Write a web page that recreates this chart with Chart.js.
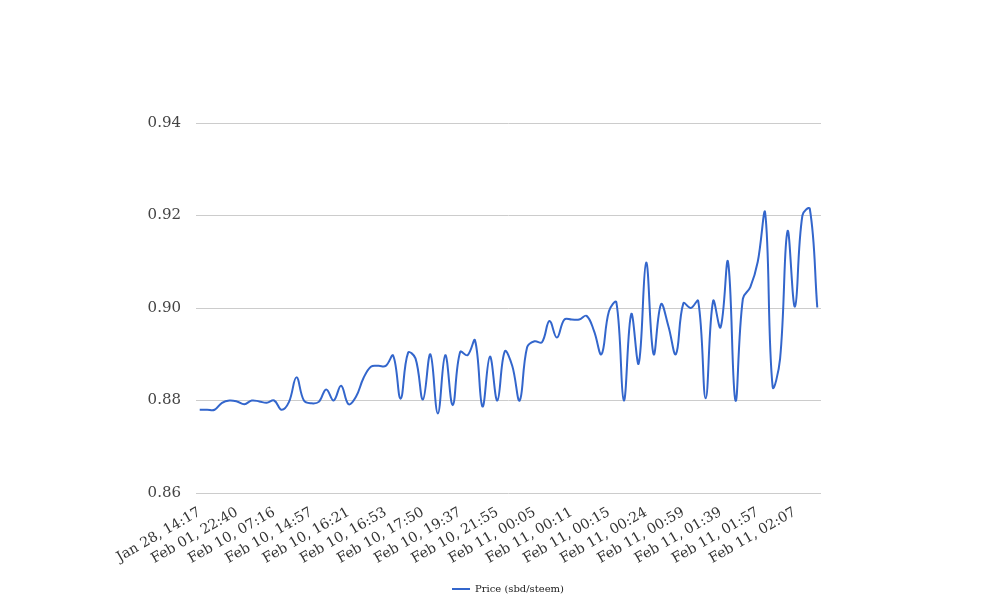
<!DOCTYPE html>
<html>
<head>
<meta charset="utf-8">
<script src="https://cdn.jsdelivr.net/npm/chart.js@4.4.1/dist/chart.umd.min.js"></script>
<style>
    html, body { margin: 0; padding: 0; background: #fff; }
    #wrap { width: 1008px; height: 616px; }
</style>
</head>
<body>
<div id="wrap"><canvas id="priceChart" width="1008" height="616"></canvas></div>
<script>
// labels shown on the x axis (one every 5 points)
const tickLabels = [
    "Jan 28, 14:17", "Feb 01, 22:40", "Feb 10, 07:16", "Feb 10, 14:57",
    "Feb 10, 16:21", "Feb 10, 16:53", "Feb 10, 17:50", "Feb 10, 19:37",
    "Feb 10, 21:55", "Feb 11, 00:05", "Feb 11, 00:11", "Feb 11, 00:15",
    "Feb 11, 00:24", "Feb 11, 00:59", "Feb 11, 01:39", "Feb 11, 01:57",
    "Feb 11, 02:07"
];
const labelEvery = 5;

// price in sbd/steem
const prices = [
    0.8780, 0.8780, 0.8780, 0.8795, 0.8800, 0.8798, 0.8792, 0.8800, 0.8798, 0.8795,
    0.8800, 0.8780, 0.8797, 0.8850, 0.8800, 0.8794, 0.8797, 0.8824, 0.8800, 0.8832,
    0.8792, 0.8808, 0.8848, 0.8873, 0.8875, 0.8875, 0.8897, 0.8804, 0.8903, 0.8891,
    0.8802, 0.8900, 0.8772, 0.8898, 0.8790, 0.8905, 0.8898, 0.8930, 0.8787, 0.8895,
    0.8800, 0.8906, 0.8875, 0.8800, 0.8915, 0.8928, 0.8926, 0.8972, 0.8936, 0.8975,
    0.8975, 0.8975, 0.8983, 0.8950, 0.8900, 0.8993, 0.9012, 0.8800, 0.8987, 0.8880,
    0.9098, 0.8900, 0.9008, 0.8960, 0.8900, 0.9010, 0.9000, 0.9015, 0.8805, 0.9015,
    0.8958, 0.9100, 0.8800, 0.9020, 0.9045, 0.9100, 0.9205, 0.8830, 0.8890, 0.9166,
    0.9003, 0.9200, 0.9214, 0.9001
];

const yMin = 0.86;
const yMax = 0.94;
const yStep = 0.02;

const labels = prices.map((p, i) => (i % labelEvery === 0 ? tickLabels[i / labelEvery] || "" : ""));

// centre the legend on the whole canvas instead of the padded box
const centerLegend = {
    id: "centerLegend",
    afterLayout(chart) {
        const lg = chart.legend;
        const shift = (chart.width - (lg.left + lg.right)) / 2 + 4;
        lg.left += shift;
        lg.right += shift;
    },
};

const ctx = document.getElementById("priceChart");
const chart = new Chart(ctx, {
    type: "line",
    data: {
        labels: labels,
        datasets: [
            {
                label: "Price (sbd/steem)",
                data: prices,
                borderColor: "#3366cc",
                backgroundColor: "#3366cc",
                borderWidth: 2,
                pointRadius: 0,
                tension: 0.4,
                fill: false,
            },
        ],
    },
    options: {
        responsive: false,
        animation: false,
        layout: {
            padding: { left: 0, right: 187, top: 123, bottom: 12 },
        },
        plugins: {
            tooltip: { enabled: false },
            legend: {
                position: "bottom",
                labels: {
                    usePointStyle: true,
                    pointStyle: "line",
                    pointStyleWidth: 18,
                    color: "#222",
                    font: { family: "DejaVu Serif", size: 10 },
                    padding: 10,
                },
            },
        },
        scales: {
            x: {
                offset: true,
                grid: { display: false, drawTicks: false },
                border: { display: false },
                ticks: {
                    autoSkip: false,
                    minRotation: 30,
                    maxRotation: 30,
                    padding: 11,
                    color: "#333",
                    font: { family: "DejaVu Serif", size: 14 },
                    callback: function (value) {
                        return this.getLabelForValue(value);
                    },
                },
                afterFit: (scale) => { scale.height = 81; },
            },
            y: {
                min: yMin,
                max: yMax,
                grid: { color: "#cccccc", drawTicks: false },
                border: { display: false },
                ticks: {
                    stepSize: yStep,
                    padding: 15,
                    color: "#444",
                    font: { family: "DejaVu Serif", size: 15 },
                    callback: (v) => v.toFixed(2),
                },
                afterFit: (scale) => { scale.width = 196; },
            },
        },
    },
    plugins: [centerLegend],
});
</script>
</body>
</html>
